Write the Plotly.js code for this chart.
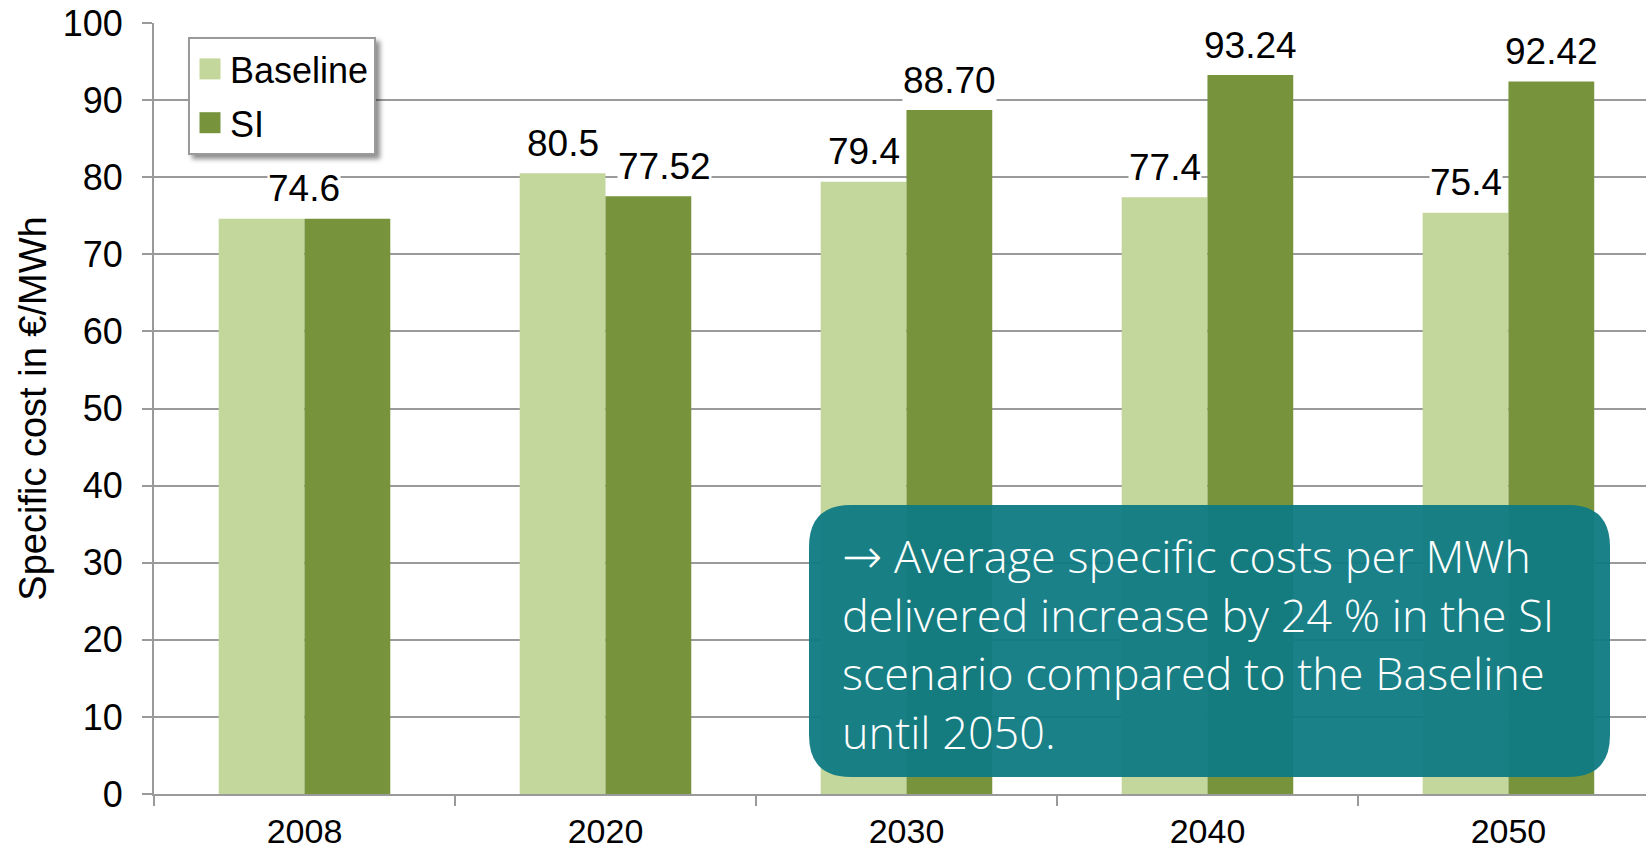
<!DOCTYPE html>
<html>
<head>
<meta charset="utf-8">
<script src="https://cdn.plot.ly/plotly-3.0.1.min.js"></script>
<style>
  html, body { margin: 0; padding: 0; background: #ffffff; }
  #chart { width: 1646px; height: 855px; }
</style>
</head>
<body>
<div id="chart"></div>
<script>
// Specific cost of delivered electricity, Baseline vs. SI scenario
const years = ['2008', '2020', '2030', '2040', '2050'];
const baseline = [74.6, 80.5, 79.4, 77.4, 75.4];
const si = [74.6, 77.52, 88.70, 93.24, 92.42];
const baselineLabels = ['74.6', '80.5', '79.4', '77.4', '75.4'];
const siLabels = ['74.6', '77.52', '88.70', '93.24', '92.42'];

const seriesNames = ['Baseline', 'SI'];
const colors = ['#C3D69B', '#77933C'];
const arrow = '<span style="font-family:DejaVu Sans;font-size:48px">\u2192</span>';
const noteText = arrow + ' Average specific costs per MWh<br>delivered increase by 24 % in the SI<br>scenario compared to the Baseline<br>until 2050.';

// plot-area geometry (px) used to place the note box
const W = 1646, H = 855;
const M = { l: 154, r: 0, t: 23, b: 61 };
const plotW = W - M.l - M.r;
const plotH = H - M.t - M.b;
const px = x => (x - M.l) / plotW;
const py = y => (H - M.b - y) / plotH;

const baseFont = 'Liberation Sans, Arial, sans-serif';
const xRange = [-0.5, 4.457];
const barGap = 0.43;

const traces = [
  { type: 'bar', name: seriesNames[0], x: years, y: baseline, legendgroup: 'g1',
    marker: { color: colors[0], line: { width: 0 } }, hoverinfo: 'x+y' },
  { type: 'bar', name: seriesNames[1], x: years, y: si, legendgroup: 'g2',
    marker: { color: colors[1], line: { width: 0 } }, hoverinfo: 'x+y' }
];

// value labels above each bar (single label where both bars are equal);
// x is the category index, shifted by half a bar width. When the two
// bars of a group are close in height, the SI label is nudged right.
const halfBar = plotW / (xRange[1] - xRange[0]) * (1 - barGap) / 4;
const annotations = [];
years.forEach((yr, i) => {
  const lab = { x: i, xref: 'x', yref: 'y', showarrow: false, yanchor: 'middle',
    yshift: 30, bgcolor: '#ffffff', borderpad: 0,
    font: { family: baseFont, size: 37, color: '#000000' } };
  if (baseline[i] === si[i]) {
    annotations.push(Object.assign({}, lab, { y: baseline[i], text: baselineLabels[i], xshift: 0 }));
  } else {
    const nudge = Math.abs(baseline[i] - si[i]) < 5 ? 16 : 0;
    annotations.push(Object.assign({}, lab, { y: baseline[i], text: baselineLabels[i], xshift: -halfBar }));
    annotations.push(Object.assign({}, lab, { y: si[i], text: siLabels[i], xshift: halfBar + nudge }));
  }
});

// note text inside the teal box
annotations.push({
  xref: 'paper', yref: 'paper', x: px(840), y: py(643), xanchor: 'left', yanchor: 'middle',
  align: 'left', showarrow: false, text: noteText,
  font: { family: 'Open Sans, sans-serif', size: 45, weight: 300, color: '#ffffff' }
});

// rounded rectangle path in paper units
function roundRect(x0, y0, x1, y1, r) {
  const rx = r / plotW, ry = r / plotH;
  const L = px(x0), R = px(x1), T = py(y0), B = py(y1);
  return `M ${L + rx},${B} L ${R - rx},${B} Q ${R},${B} ${R},${B + ry} ` +
         `L ${R},${T - ry} Q ${R},${T} ${R - rx},${T} L ${L + rx},${T} ` +
         `Q ${L},${T} ${L},${T - ry} L ${L},${B + ry} Q ${L},${B} ${L + rx},${B} Z`;
}

const shapes = [
  { type: 'path', xref: 'paper', yref: 'paper', layer: 'above',
    path: roundRect(809, 505, 1610, 777, 42),
    fillcolor: '#0F7A83', opacity: 0.95, line: { width: 0 } }
];

const layout = {
  width: W, height: H,
  margin: M,
  paper_bgcolor: '#ffffff', plot_bgcolor: '#ffffff',
  barmode: 'group', bargap: barGap, bargroupgap: 0,
  font: { family: baseFont, color: '#000000' },
  showlegend: true,
  legend: {
    x: px(188), y: py(37), xanchor: 'left', yanchor: 'top',
    bgcolor: '#ffffff', bordercolor: '#9a9a9a', borderwidth: 2,
    font: { family: baseFont, size: 36, color: '#000000' },
    tracegroupgap: 4, itemwidth: 30
  },
  xaxis: {
    type: 'category', range: xRange,
    showline: true, linecolor: '#9a9a9a', linewidth: 2,
    ticks: 'outside', tickson: 'boundaries', ticklen: 10, tickwidth: 2, tickcolor: '#9a9a9a',
    ticklabelstandoff: 6,
    showgrid: false, zeroline: false,
    tickfont: { family: baseFont, size: 34, color: '#000000' }
  },
  yaxis: {
    range: [0, 100], dtick: 10, tick0: 0,
    showline: true, linecolor: '#9a9a9a', linewidth: 2,
    ticks: 'outside', ticklen: 10, tickwidth: 2, tickcolor: '#9a9a9a',
    ticklabelstandoff: 12,
    showgrid: true, gridcolor: '#9a9a9a', gridwidth: 2, zeroline: false,
    tickfont: { family: baseFont, size: 36, color: '#000000' },
    title: { text: 'Specific cost in \u20AC/MWh', standoff: 4,
             font: { family: baseFont, size: 38, color: '#000000' } }
  },
  annotations: annotations,
  shapes: shapes
};

Plotly.newPlot('chart', traces, layout, { displayModeBar: false, staticPlot: true }).then(gd => {
  // soft drop shadow behind the legend box
  const svgNS = 'http://www.w3.org/2000/svg';
  const defs = gd.querySelector('svg.main-svg defs');
  const filter = document.createElementNS(svgNS, 'filter');
  filter.setAttribute('id', 'legend-shadow');
  filter.setAttribute('x', '-10%'); filter.setAttribute('y', '-10%');
  filter.setAttribute('width', '130%'); filter.setAttribute('height', '140%');
  const drop = document.createElementNS(svgNS, 'feDropShadow');
  drop.setAttribute('dx', '4'); drop.setAttribute('dy', '4');
  drop.setAttribute('stdDeviation', '2.5');
  drop.setAttribute('flood-color', '#000000'); drop.setAttribute('flood-opacity', '0.45');
  filter.appendChild(drop);
  defs.appendChild(filter);
  const bg = gd.querySelector('.legend rect.bg');
  if (bg) bg.setAttribute('filter', 'url(#legend-shadow)');
  // larger legend swatches
  gd.querySelectorAll('.legend .legendpoints path').forEach(p => {
    p.setAttribute('transform', (p.getAttribute('transform') || '') + ' scale(1.75)');
  });
});
</script>
</body>
</html>
